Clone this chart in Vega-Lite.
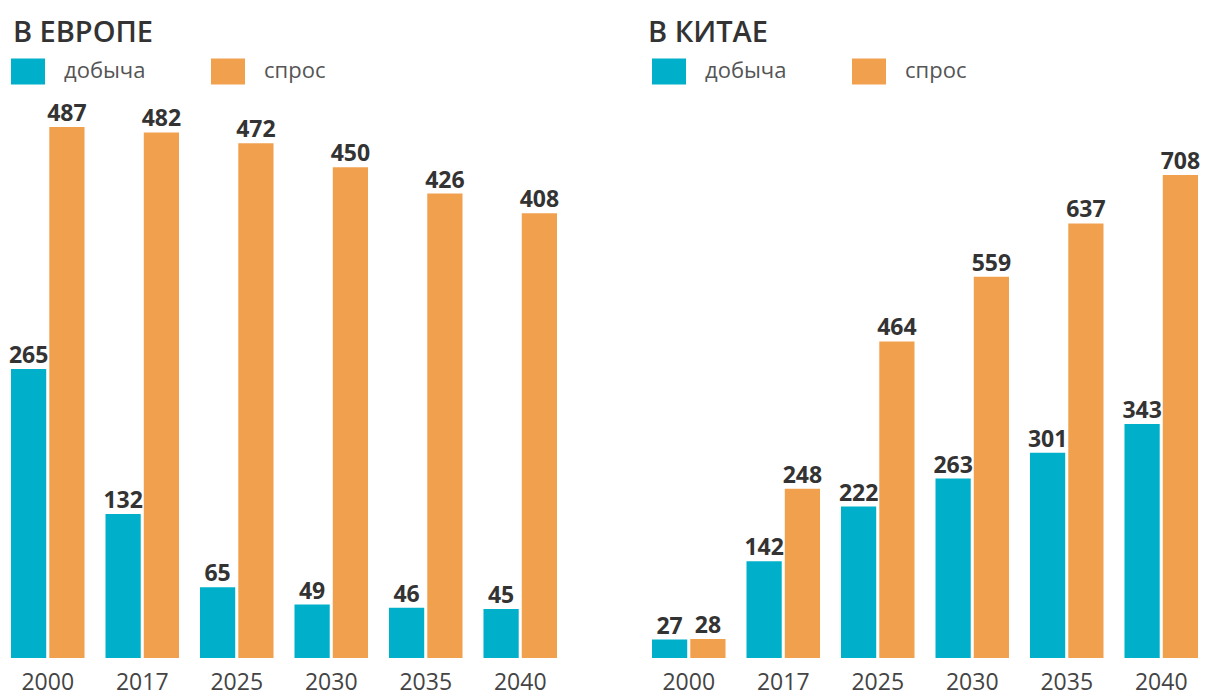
{
  "$schema": "https://vega.github.io/schema/vega-lite/v6.json",
  "background": "white",
  "padding": {"left": 8, "top": 19, "right": 0, "bottom": 0},
  "spacing": 88,
  "datasets": {
    "d": [
      {"region": "Европа", "year": "2000", "type": "добыча", "value": 265},
      {"region": "Европа", "year": "2000", "type": "спрос", "value": 487},
      {"region": "Европа", "year": "2017", "type": "добыча", "value": 132},
      {"region": "Европа", "year": "2017", "type": "спрос", "value": 482},
      {"region": "Европа", "year": "2025", "type": "добыча", "value": 65},
      {"region": "Европа", "year": "2025", "type": "спрос", "value": 472},
      {"region": "Европа", "year": "2030", "type": "добыча", "value": 49},
      {"region": "Европа", "year": "2030", "type": "спрос", "value": 450},
      {"region": "Европа", "year": "2035", "type": "добыча", "value": 46},
      {"region": "Европа", "year": "2035", "type": "спрос", "value": 426},
      {"region": "Европа", "year": "2040", "type": "добыча", "value": 45},
      {"region": "Европа", "year": "2040", "type": "спрос", "value": 408},
      {"region": "Китай", "year": "2000", "type": "добыча", "value": 27},
      {"region": "Китай", "year": "2000", "type": "спрос", "value": 28},
      {"region": "Китай", "year": "2017", "type": "добыча", "value": 142},
      {"region": "Китай", "year": "2017", "type": "спрос", "value": 248},
      {"region": "Китай", "year": "2025", "type": "добыча", "value": 222},
      {"region": "Китай", "year": "2025", "type": "спрос", "value": 464},
      {"region": "Китай", "year": "2030", "type": "добыча", "value": 263},
      {"region": "Китай", "year": "2030", "type": "спрос", "value": 559},
      {"region": "Китай", "year": "2035", "type": "добыча", "value": 301},
      {"region": "Китай", "year": "2035", "type": "спрос", "value": 637},
      {"region": "Китай", "year": "2040", "type": "добыча", "value": 343},
      {"region": "Китай", "year": "2040", "type": "спрос", "value": 708}
    ]
  },
  "resolve": {
    "scale": {"color": "independent", "y": "independent"},
    "legend": {"color": "independent"}
  },
  "config": {
    "font": "Open Sans",
    "view": {"stroke": null},
    "title": {"anchor": "start", "fontSize": 29, "fontWeight": 600, "color": "#333333", "offset": 6},
    "legend": {
      "orient": "top",
      "direction": "horizontal",
      "title": null,
      "symbolType": "M-1,-0.765L1,-0.765L1,0.765L-1,0.765Z",
      "symbolSize": 1156,
      "symbolStrokeWidth": 0,
      "labelFontSize": 22,
      "labelColor": "#555555",
      "labelOffset": 19,
      "columnPadding": 65,
      "offset": 13,
      "padding": 0
    },
    "axisX": {
      "title": null,
      "labelAngle": 0,
      "ticks": false,
      "domain": false,
      "grid": false,
      "labelFontSize": 23,
      "labelColor": "#444444",
      "labelPadding": 13
    }
  },
  "hconcat": [
    {
      "title": {"text": "В ЕВРОПЕ", "dx": 4},
      "width": 546,
      "height": 560,
      "data": {"name": "d"},
      "transform": [{"filter": "datum.region === 'Европа'"}],
      "encoding": {
        "x": {"field": "year", "type": "nominal", "sort": null, "scale": {"paddingInner": 0.222, "paddingOuter": 0}},
        "xOffset": {"field": "type", "type": "nominal", "sort": ["добыча", "спрос"], "scale": {"paddingInner": 0.08, "paddingOuter": 0}},
        "y": {"field": "value", "type": "quantitative", "scale": {"domain": [0, 513.6], "nice": false}, "axis": null}
      },
      "layer": [
        {
          "mark": {"type": "bar"},
          "encoding": {
            "color": {"field": "type", "type": "nominal", "sort": ["добыча", "спрос"], "scale": {"domain": ["добыча", "спрос"], "range": ["#00B0CA", "#F1A04E"]}}
          }
        },
        {
          "mark": {"type": "text", "baseline": "alphabetic", "dy": -6, "fontSize": 23, "fontWeight": "bold", "color": "#333333"},
          "encoding": {"text": {"field": "value", "type": "quantitative"}}
        }
      ]
    },
    {
      "title": {"text": "В КИТАЕ", "dx": -4},
      "width": 546,
      "height": 560,
      "data": {"name": "d"},
      "transform": [{"filter": "datum.region === 'Китай'"}],
      "encoding": {
        "x": {"field": "year", "type": "nominal", "sort": null, "scale": {"paddingInner": 0.222, "paddingOuter": 0}},
        "xOffset": {"field": "type", "type": "nominal", "sort": ["добыча", "спрос"], "scale": {"paddingInner": 0.08, "paddingOuter": 0}},
        "y": {"field": "value", "type": "quantitative", "scale": {"domain": [0, 820.9], "nice": false}, "axis": null}
      },
      "layer": [
        {
          "mark": {"type": "bar"},
          "encoding": {
            "color": {"field": "type", "type": "nominal", "sort": ["добыча", "спрос"], "scale": {"domain": ["добыча", "спрос"], "range": ["#00B0CA", "#F1A04E"]}}
          }
        },
        {
          "mark": {"type": "text", "baseline": "alphabetic", "dy": -6, "fontSize": 23, "fontWeight": "bold", "color": "#333333"},
          "encoding": {"text": {"field": "value", "type": "quantitative"}}
        }
      ]
    }
  ]
}
